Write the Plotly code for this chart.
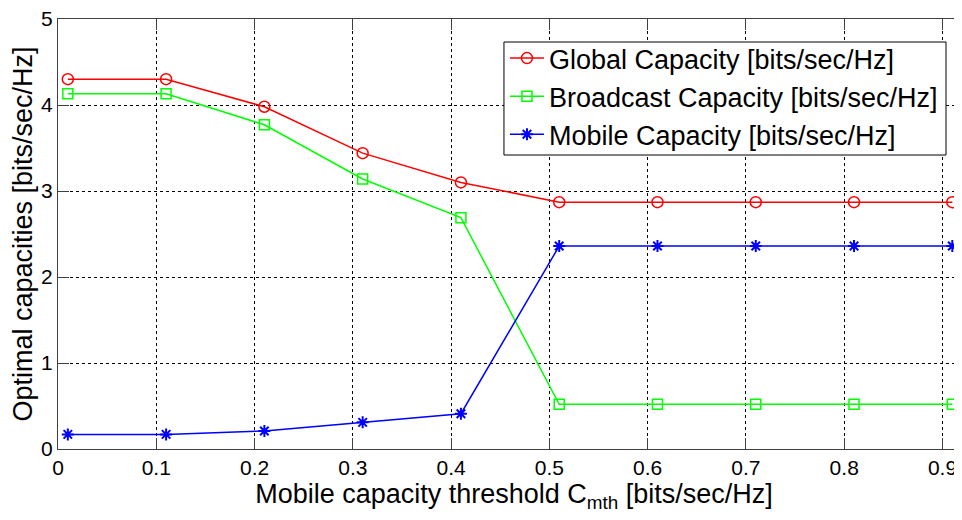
import plotly.graph_objects as go

# threshold values (x) and capacities
threshold = [0.01, 0.11, 0.21, 0.31, 0.41, 0.51, 0.61, 0.71, 0.81, 0.91]
global_cap = [4.30, 4.30, 3.98, 3.44, 3.10, 2.87, 2.87, 2.87, 2.87, 2.87]
broadcast_cap = [4.13, 4.13, 3.77, 3.14, 2.69, 0.52, 0.52, 0.52, 0.52, 0.52]
mobile_cap = [0.17, 0.17, 0.21, 0.31, 0.41, 2.36, 2.36, 2.36, 2.36, 2.36]

x_ticks = [0, 0.1, 0.2, 0.3, 0.4, 0.5, 0.6, 0.7, 0.8, 0.9]
y_ticks = [0, 1, 2, 3, 4, 5]

fnt = "Liberation Sans, Arial, sans-serif"

fig = go.Figure()
fig.add_trace(go.Scatter(
    x=threshold, y=global_cap, mode="lines+markers",
    name="Global Capacity [bits/sec/Hz]",
    line=dict(color="#ff0000", width=1.5),
    marker=dict(symbol="circle-open", size=11, color="#ff0000", line=dict(width=1.5)),
))
fig.add_trace(go.Scatter(
    x=threshold, y=broadcast_cap, mode="lines+markers",
    name="Broadcast Capacity [bits/sec/Hz]",
    line=dict(color="#00ff00", width=1.5),
    marker=dict(symbol="square-open", size=10, color="#00ff00", line=dict(width=1.5)),
))
fig.add_trace(go.Scatter(
    x=threshold, y=mobile_cap, mode="lines+markers",
    name="Mobile Capacity [bits/sec/Hz]",
    line=dict(color="#0000ff", width=1.5),
    marker=dict(symbol="asterisk-open", size=10, color="#0000ff", line=dict(width=2, color="#0000ff")),
))

axis_common = dict(
    showline=True, linecolor="#404040", linewidth=1, mirror="ticks",
    ticks="inside", ticklen=11, tickcolor="#404040",
    showgrid=True, gridcolor="#000000", griddash="dot", gridwidth=1,
    zeroline=False, automargin=False, ticklabeloverflow="allow",
    tickfont=dict(family=fnt, size=21, color="black"),
)

fig.update_xaxes(
    range=[0, 0.928], tickvals=x_ticks, ticktext=[f"{v:g}" for v in x_ticks],
    title=dict(text="Mobile capacity threshold C<sub>mth</sub> [bits/sec/Hz]",
               font=dict(family=fnt, size=27, color="black"), standoff=4),
    **axis_common,
)
fig.update_yaxes(
    range=[0, 5], tickvals=y_ticks,
    title=dict(text="Optimal capacities [bits/sec/Hz]",
               font=dict(family=fnt, size=27, color="black"), standoff=0),
    **axis_common,
)

# legend frame drawn as a shape so that its box can be placed exactly
fig.add_shape(
    type="rect", xref="paper", yref="paper",
    x0=0.4890, x1=0.9737, y0=0.6837, y1=0.9465,
    fillcolor="white", line=dict(color="black", width=1), layer="above",
)

fig.update_layout(
    width=962, height=520,
    margin=dict(l=50, r=0, t=11, b=79),
    paper_bgcolor="white", plot_bgcolor="white",
    font=dict(family=fnt, color="black"),
    legend=dict(
        x=0.4901, y=0.9651, xanchor="left", yanchor="top",
        bgcolor="rgba(0,0,0,0)", borderwidth=0,
        font=dict(family=fnt, size=27, color="black"),
        itemwidth=34, tracegroupgap=0,
    ),
    showlegend=True,
)

fig.write_html("out.html")
